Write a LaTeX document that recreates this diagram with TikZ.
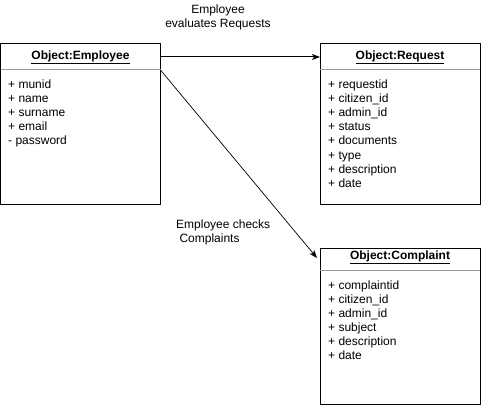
\documentclass[tikz,border=0pt]{standalone}
\usepackage{fontspec}
\setmainfont{Liberation Sans}
\usetikzlibrary{arrows.meta}
\begin{document}
\begin{tikzpicture}[x=1pt,y=-1pt,
  umlbox/.style={draw=black,line width=1pt,rectangle,inner sep=0pt},
  sepline/.style={draw=black!40,line width=1pt},
  title/.style={font=\fontsize{12}{14}\selectfont\bfseries,inner sep=0pt},
  attr/.style={font=\fontsize{12}{14}\selectfont,inner sep=0pt,anchor=base west},
  lbl/.style={font=\fontsize{12}{14}\selectfont,inner sep=0pt},
  conn/.style={draw=black,line width=1pt,-{Stealth[length=8pt,width=6pt,inset=2pt]}}]
\useasboundingbox (0,0) rectangle (481,406);
% Employee
\node[umlbox,minimum width=160pt,minimum height=160pt] (emp) at (80.5,124) {};
\draw[sepline] (0.5,70) -- (160.5,70);
\node[title] (empt) at (80.5,57) {\underline{Object:Employee}};
\foreach \t [count=\i] in {+ munid,+ name,+ surname,+ email,- password}
  \node[attr] (emp-\i) at (8,{89+14*(\i-1)}) {\t};
% Request
\node[umlbox,minimum width=160pt,minimum height=160pt] (req) at (400,124) {};
\draw[sepline] (320,70) -- (480,70);
\node[title] (reqt) at (400,57) {\underline{Object:Request}};
\foreach \t [count=\i] in {+ requestid,+ citizen\_id,+ admin\_id,+ status,+ documents,+ type,+ description,+ date}
  \node[attr] (req-\i) at (328,{89+14*(\i-1)}) {\t};
% Complaint
\node[umlbox,minimum width=160pt,minimum height=156pt] (com) at (400,326) {};
\draw[sepline] (320,270) -- (480,270);
\node[title] (comt) at (400,257) {\underline{Object:Complaint}};
\foreach \t [count=\i] in {+ complaintid,+ citizen\_id,+ admin\_id,+ subject,+ description,+ date}
  \node[attr] (com-\i) at (328,{289+14*(\i-1)}) {\t};
% connectors
\coordinate (e1) at (160.5,57);
\coordinate (r1) at (320,57);
\coordinate (e2) at (160.5,70);
\coordinate (c1) at (317,258);
\draw[conn] (e1) -- (r1);
\draw[conn,line width=0.7pt] (e2) -- (c1);
% labels
\node[lbl,align=center] (l1) at (218,17) {Employee\\evaluates Requests};
\node[lbl,align=left,anchor=west] (l2) at (176,232) {Employee checks\\\ Complaints};
\end{tikzpicture}
\end{document}
